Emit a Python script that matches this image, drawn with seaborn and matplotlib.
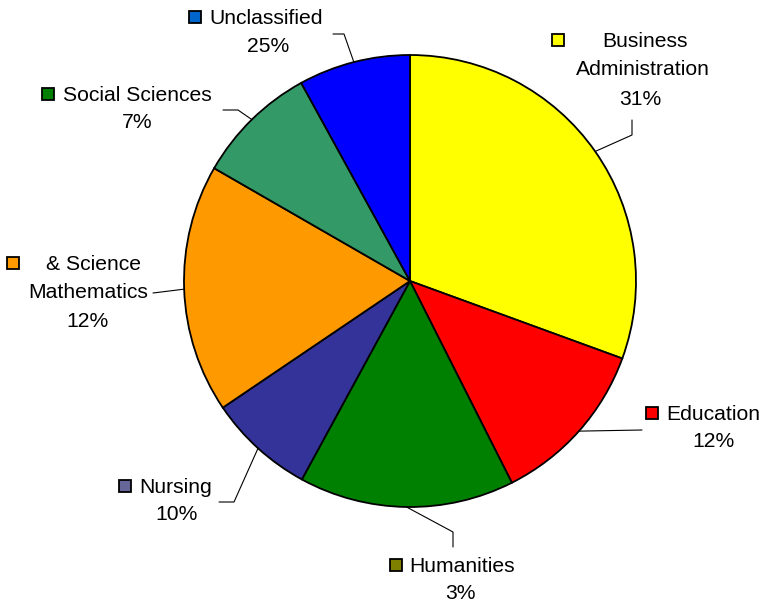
import numpy as np
import matplotlib
matplotlib.use("Agg")
import matplotlib.pyplot as plt
import seaborn as sns

# values; labels kept exactly as printed in the chart
categories = ["Business Administration", "Education", "Humanities", "Nursing",
              "Mathematics & Science", "Social Sciences", "Unclassified"]
values = [30.6, 12.0, 15.4, 7.6, 17.8, 8.7, 8.0]
label_lines = [["Business", "Administration", "31%"],
               ["Education", "12%"],
               ["Humanities", "3%"],
               ["Nursing", "10%"],
               ["& Science", "Mathematics", "12%"],
               ["Social Sciences", "7%"],
               ["Unclassified", "25%"]]
slice_colors = ["#FFFF00", "#FF0000", "#008000", "#333399", "#FF9900", "#339966", "#0000FF"]
key_colors = ["#FFFF00", "#FF0000", "#808000", "#666699", "#FF9900", "#008000", "#0066CC"]

sns.set_style("white")
plt.rcParams['font.family'] = ['Liberation Sans', 'DejaVu Sans']

fig = plt.figure(figsize=(7.61, 6.03), dpi=100)
ax = fig.add_axes([0, 0, 1, 1])
cx, cy, r = 410, 281, 226
# y axis is inverted below, so start at -90 and go "counterclockwise" in data
# space, which reads clockwise from 12 o'clock on screen
wedges, _ = ax.pie(values, colors=slice_colors, startangle=-90, counterclock=True,
                   center=(cx, cy), radius=r,
                   wedgeprops=dict(edgecolor="black", linewidth=1.3))
ax.set_xlim(0, 761)
ax.set_ylim(603, 0)
ax.set_aspect("equal")
ax.axis("off")

# label layout in pixels: key square, text lines (x, y, ha), leader bend/end
layout = [
    dict(key=(558, 40), lines=[(645, 40, "center"), (643, 68, "center"), (640, 98, "center")],
         bend=(632, 135), end=(632, 120)),
    dict(key=(652, 413), lines=[(666, 413, "left"), (713, 440, "center")],
         bend=None, end=(642, 430)),
    dict(key=(396, 565), lines=[(409, 565, "left"), (460, 592, "center")],
         bend=(453, 532), end=(453, 547)),
    dict(key=(125, 486), lines=[(139, 486, "left"), (177, 513, "center")],
         bend=(234, 502), end=(219, 502)),
    dict(key=(13, 263), lines=[(93, 263, "center"), (88, 291, "center"), (88, 320, "center")],
         bend=None, end=(153, 293)),
    dict(key=(48, 94), lines=[(63, 94, "left"), (137, 121, "center")],
         bend=(238, 110), end=(223, 110)),
    dict(key=(195, 17), lines=[(209, 17, "left"), (268, 45, "center")],
         bend=(344, 34), end=(333, 34)),
]

fs = 15.2
for w, lab, kc, lay in zip(wedges, label_lines, key_colors, layout):
    for txt, (tx, ty, ha) in zip(lab, lay["lines"]):
        ax.text(tx, ty + 1.5, txt, ha=ha, va="center", fontsize=fs, color="black")
    kx, ky = lay["key"]
    ax.add_patch(plt.Rectangle((kx - 6, ky - 6), 12, 12, facecolor=kc,
                               edgecolor="black", linewidth=1.3))
    # leader line from wedge edge at mid-angle to label
    mid = np.deg2rad((w.theta1 + w.theta2) / 2)
    ex, ey = cx + r * np.cos(mid), cy + r * np.sin(mid)
    pts = [(ex, ey)]
    if lay["bend"] is not None:
        pts.append(lay["bend"])
    pts.append(lay["end"])
    xs, ys = zip(*pts)
    ax.plot(xs, ys, color="black", linewidth=0.8)

fig.savefig("out.png", dpi=100)
